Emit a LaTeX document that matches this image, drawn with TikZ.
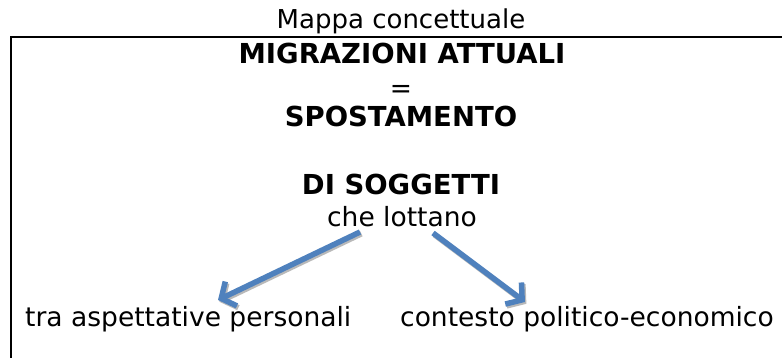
\documentclass[tikz,border=0pt]{standalone}
\usepackage{fontspec}
\setmainfont{DejaVu Sans}
\usetikzlibrary{arrows.meta}
\definecolor{arrowblue}{HTML}{4F81BD}

\begin{document}
\begin{tikzpicture}[x=1pt, y=-1pt,
        plain/.style = {inner sep=0, anchor=base, font=\fontsize{26.5}{30}\selectfont},
        heavy/.style = {inner sep=0, anchor=base, font=\fontsize{27.5}{32}\selectfont\bfseries},
        link/.style = {arrowblue, line width=5.5pt, -{Straight Barb[length=11pt, width=27pt]}},
        linkshadow/.style = {link, gray!55, transform canvas={shift={(1.4pt,-1.8pt)}}}]
        \clip (0, 0) rectangle (782, 358);
        \fill [white] (0, 0) rectangle (782, 358);
        \draw [line width=2.8pt] (11, 37) rectangle (800, 380);
        % titles
        \node [plain, font=\fontsize{26}{30}\selectfont] (title) at (401, 29) {Mappa concettuale};
        \node [heavy] (migr) at (402, 64) {MIGRAZIONI ATTUALI};
        \node [plain] (equal) at (401, 98) {=};
        \node [heavy] (spost) at (401, 127) {SPOSTAMENTO};
        \node [heavy] (sogg) at (401, 195) {DI SOGGETTI};
        \node [plain] (lottano) at (402, 227) {che lottano};
        % the two sides
        \node [plain, anchor=base west] (aspett) at (25, 326) {tra aspettative personali};
        \node [plain, anchor=base west] (contesto) at (400, 326) {contesto politico-economico};
        \coordinate (lstart) at ([shift={(-42pt,-5pt)}]lottano.base);
        \coordinate (rstart) at ([shift={(31pt,-6pt)}]lottano.base);
        \coordinate (ltip) at ([shift={(193pt,26pt)}]aspett.base west);
        \coordinate (rtip) at ([shift={(125pt,24pt)}]contesto.base west);
        \draw [linkshadow] (lstart) -- (ltip);
        \draw [linkshadow] (rstart) -- (rtip);
        \draw [link] (lstart) -- (ltip);
        \draw [link] (rstart) -- (rtip);
\end{tikzpicture}
\end{document}
